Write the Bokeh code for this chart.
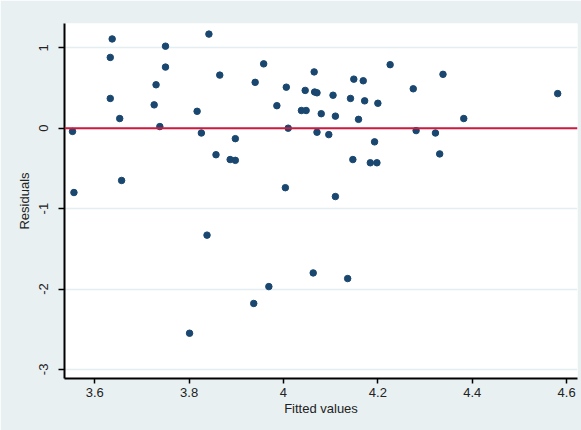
from bokeh.plotting import figure
from bokeh.models import FixedTicker, Span, Range1d
from bokeh.embed import file_html
from bokeh.resources import INLINE

fitted = [3.553, 3.556, 3.633, 3.637, 3.633, 3.653, 3.657, 3.726, 3.730, 3.738,
          3.750, 3.750, 3.801, 3.817, 3.826, 3.838, 3.842, 3.857, 3.865, 3.887,
          3.898, 3.898, 3.937, 3.940, 3.958, 3.969, 3.986, 4.004, 4.006, 4.010,
          4.038, 4.048, 4.046, 4.063, 4.065, 4.066, 4.071, 4.071, 4.080, 4.096,
          4.105, 4.110, 4.110, 4.136, 4.142, 4.147, 4.149, 4.159, 4.169, 4.172,
          4.184, 4.193, 4.198, 4.200, 4.226, 4.275, 4.281, 4.322, 4.331, 4.338,
          4.382, 4.581]
residuals = [-0.04, -0.80, 0.88, 1.11, 0.37, 0.12, -0.65, 0.29, 0.54, 0.02,
             1.02, 0.76, -2.55, 0.21, -0.06, -1.33, 1.17, -0.33, 0.66, -0.39,
             -0.40, -0.13, -2.18, 0.57, 0.80, -1.97, 0.28, -0.74, 0.51, 0.00,
             0.22, 0.22, 0.47, -1.80, 0.70, 0.45, 0.44, -0.05, 0.18, -0.08,
             0.41, 0.15, -0.85, -1.87, 0.37, -0.39, 0.61, 0.11, 0.59, 0.34,
             -0.43, -0.17, -0.43, 0.31, 0.79, 0.49, -0.03, -0.06, -0.32, 0.67,
             0.12, 0.43]

x_ticks = [3.6, 3.8, 4.0, 4.2, 4.4, 4.6]
x_tick_labels = ["3.6", "3.8", "4", "4.2", "4.4", "4.6"]
y_ticks = [-3, -2, -1, 0, 1]
y_tick_labels = ["-3", "-2", "-1", "0", "1"]
x_title = "Fitted values"
y_title = "Residuals"

BG = "#e8f0f2"
FONT = "Liberation Sans"

p = figure(width=581, height=430, output_backend="svg", toolbar_location=None,
           x_range=Range1d(3.536, 4.623), y_range=Range1d(-3.113, 1.302),
           min_border_left=64, min_border_right=4, min_border_top=23,
           min_border_bottom=52)
p.background_fill_color = "white"
p.border_fill_color = BG
p.outline_line_color = None

p.xgrid.grid_line_color = None
p.ygrid.grid_line_color = "#e4eef1"
p.ygrid.grid_line_width = 1.5
p.ygrid.ticker = FixedTicker(ticks=y_ticks)

p.xaxis.ticker = FixedTicker(ticks=x_ticks)
p.xaxis.major_label_overrides = {t: l for t, l in zip(x_ticks, x_tick_labels)}
p.yaxis.ticker = FixedTicker(ticks=y_ticks)
p.yaxis.major_label_overrides = {t: l for t, l in zip(y_ticks, y_tick_labels)}
p.yaxis.major_label_orientation = "vertical"

p.xaxis.axis_label = x_title
p.yaxis.axis_label = y_title

for ax in (p.xaxis, p.yaxis):
    ax.axis_line_color = "black"
    ax.axis_line_width = 2
    ax.major_tick_line_color = "black"
    ax.major_tick_line_width = 1.5
    ax.major_tick_in = 0
    ax.major_tick_out = 5
    ax.minor_tick_line_color = None
    ax.major_label_text_font = FONT
    ax.major_label_text_font_size = "13px"
    ax.major_label_text_color = "#222222"
    ax.axis_label_text_font = FONT
    ax.axis_label_text_font_size = "13px"
    ax.axis_label_text_font_style = "normal"
    ax.axis_label_text_color = "#222222"

p.xaxis.major_label_standoff = 4
p.xaxis.axis_label_standoff = 1
p.yaxis.major_tick_out = 6
p.yaxis.major_label_standoff = 10
p.yaxis.axis_label_standoff = 5

p.add_layout(Span(location=0, dimension="width", line_color="#cf1a3e", line_width=2))

p.scatter(fitted, residuals, marker="circle", size=6.5, fill_color="#1a476f",
          line_color="#1a476f")

open("out.html", "w").write(file_html(p, INLINE))
